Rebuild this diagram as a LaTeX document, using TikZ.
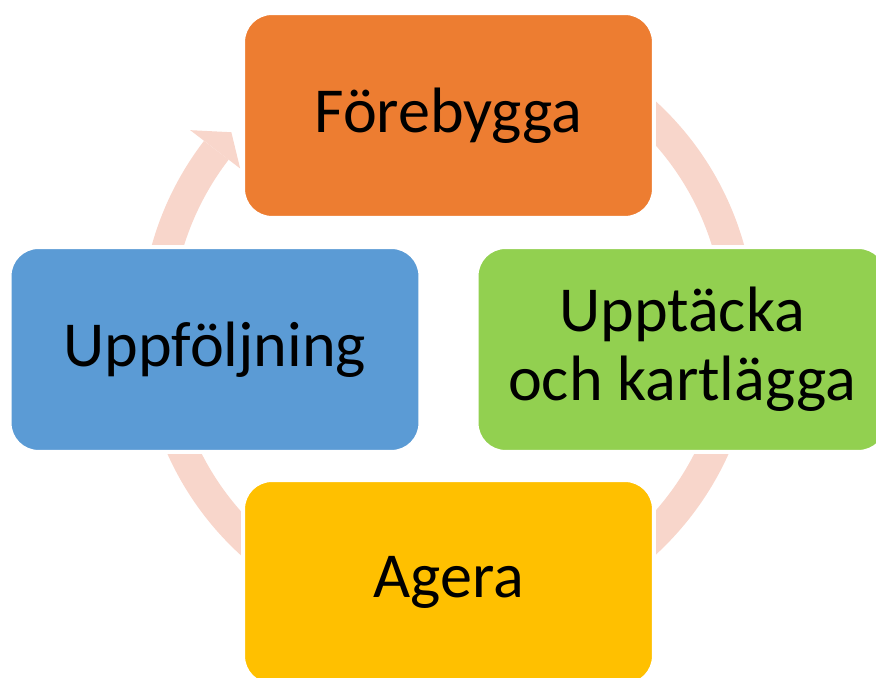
\documentclass[tikz,border=0pt]{standalone}
\usepackage{fontspec}
\setmainfont{Carlito}
\usepackage{xcolor}
\usepackage{tikz}

\definecolor{stepOrange}{HTML}{ED7D31}
\definecolor{stepGreen}{HTML}{92D050}
\definecolor{stepBlue}{HTML}{5B9BD5}
\definecolor{stepYellow}{HTML}{FFC000}
\definecolor{ringPeach}{HTML}{F8D6CB}

\begin{document}
\begin{tikzpicture}[x=0.02cm, y=0.02cm,
  stepbox/.style={draw=white, line width=0.08cm, rounded corners=0.58cm,
    minimum width=8.22cm, minimum height=4.1cm, inner sep=0pt, align=center,
    font=\fontsize{36.5}{39.5}\selectfont},
  ring/.style={ringPeach, line width=0.62cm}]
\useasboundingbox (0,0) rectangle (876,678);
\clip (0,0) rectangle (876,678);
% ring with one arrow head behind the boxes
\coordinate (ringc) at (448,350);
\draw[ring] ([shift={(142.5:292)}]ringc) arc[start angle=142.5, end angle=410, radius=292];
\fill[ringPeach] ([shift={(142.5:325)}]ringc) -- ([shift={(137.9:292)}]ringc) -- ([shift={(142.5:262)}]ringc) -- cycle;
% the four steps
\node[stepbox, fill=stepOrange] (forebygga) at (448.5,562.5) {Förebygga};
\node[stepbox, fill=stepGreen] (upptacka) at (682,328.5) {Upptäcka\\och kartlägga};
\node[stepbox, fill=stepYellow] (agera) at (448.5,95.5) {Agera};
\node[stepbox, fill=stepBlue] (uppfoljning) at (215,328.5) {Uppföljning};
\end{tikzpicture}
\end{document}
